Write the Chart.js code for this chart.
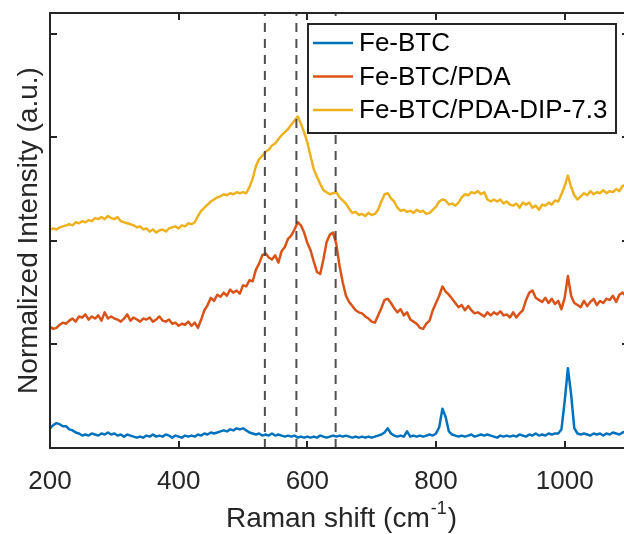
<!DOCTYPE html>
<html>
<head>
<meta charset="utf-8">
<title>Raman spectra</title>
<script src="https://cdn.jsdelivr.net/npm/chart.js@4/dist/chart.umd.min.js"></script>
<style>
  html, body { margin:0; padding:0; background:#fff; overflow:hidden; }
  #wrap { width:624px; height:534px; overflow:hidden; }
  canvas { display:block; }
</style>
</head>
<body>
<div id="wrap"><canvas id="chart-raman" width="632" height="534"></canvas></div>
<script>
/* ================================================================
   Raman spectra — Fe-BTC, Fe-BTC/PDA, Fe-BTC/PDA-DIP-7.3
================================================================ */

// Raman shift (cm-1), 5 cm-1 steps
const shifts = [
  200,205,210,215,220,225,230,235,240,245, 250,255,260,265,270,275,280,285,290,295,
  300,305,310,315,320,325,330,335,340,345, 350,355,360,365,370,375,380,385,390,395,
  400,405,410,415,420,425,430,435,440,445, 450,455,460,465,470,475,480,485,490,495,
  500,505,510,515,520,525,530,535,540,545, 550,555,560,565,570,575,580,585,590,595,
  600,605,610,615,620,625,630,635,640,645, 650,655,660,665,670,675,680,685,690,695,
  700,705,710,715,720,725,730,735,740,745, 750,755,760,765,770,775,780,785,790,795,
  800,805,810,815,820,825,830,835,840,845, 850,855,860,865,870,875,880,885,890,895,
  900,905,910,915,920,925,930,935,940,945, 950,955,960,965,970,975,980,985,990,995,
  1000,1005,1010,1015,1020,1025,1030,1035,1040,1045, 1050,1055,1060,1065,1070,1075,1080,1085,1090,1095,
  1100
];

// normalized intensities, stacked with an offset per sample
const feBTC = [
  0.19,0.22,0.24,0.23,0.21,0.21,0.18,0.17,0.15,0.14, 0.12,0.13,0.12,0.14,0.13,0.12,0.14,0.13,0.15,0.13,
  0.14,0.12,0.13,0.11,0.13,0.12,0.11,0.10,0.11,0.10, 0.12,0.11,0.13,0.11,0.12,0.11,0.13,0.12,0.10,0.12,
  0.11,0.10,0.12,0.11,0.12,0.11,0.13,0.12,0.14,0.13, 0.15,0.14,0.15,0.16,0.17,0.16,0.18,0.17,0.19,0.18,
  0.19,0.17,0.15,0.14,0.13,0.14,0.12,0.13,0.12,0.14, 0.12,0.13,0.12,0.11,0.12,0.11,0.12,0.10,0.11,0.10,
  0.11,0.10,0.11,0.10,0.12,0.11,0.10,0.11,0.12,0.11, 0.12,0.11,0.12,0.11,0.10,0.11,0.10,0.11,0.10,0.11,
  0.10,0.11,0.12,0.13,0.15,0.19,0.14,0.12,0.11,0.12, 0.11,0.16,0.11,0.12,0.11,0.12,0.11,0.12,0.13,0.12,
  0.14,0.20,0.38,0.30,0.16,0.13,0.12,0.11,0.12,0.11, 0.12,0.13,0.11,0.12,0.13,0.12,0.13,0.12,0.11,0.10,
  0.12,0.11,0.12,0.11,0.12,0.11,0.13,0.12,0.11,0.13, 0.12,0.14,0.12,0.13,0.12,0.14,0.13,0.14,0.14,0.18,
  0.45,0.77,0.52,0.19,0.14,0.13,0.14,0.13,0.12,0.14, 0.13,0.14,0.12,0.14,0.13,0.15,0.14,0.13,0.15,0.16,
  0.15
];

const feBTCPDA = [
  1.17,1.15,1.16,1.19,1.21,1.20,1.23,1.25,1.22,1.27, 1.26,1.29,1.24,1.27,1.25,1.28,1.23,1.31,1.25,1.27,
  1.25,1.24,1.22,1.25,1.29,1.23,1.26,1.24,1.22,1.25, 1.24,1.26,1.22,1.24,1.27,1.23,1.22,1.24,1.20,1.21,
  1.18,1.20,1.19,1.22,1.18,1.21,1.16,1.24,1.33,1.38, 1.45,1.42,1.48,1.46,1.50,1.47,1.53,1.50,1.52,1.49,
  1.57,1.56,1.62,1.61,1.72,1.78,1.86,1.88,1.84,1.82, 1.86,1.79,1.90,1.94,2.02,2.05,2.11,2.18,2.15,2.08,
  1.98,1.91,1.80,1.70,1.68,1.82,1.99,2.06,2.08,1.97, 1.76,1.60,1.47,1.41,1.37,1.33,1.31,1.30,1.27,1.25,
  1.22,1.21,1.28,1.35,1.43,1.44,1.40,1.35,1.31,1.34, 1.28,1.31,1.24,1.22,1.20,1.16,1.15,1.20,1.23,1.33,
  1.40,1.47,1.56,1.51,1.48,1.44,1.40,1.36,1.38,1.33, 1.37,1.33,1.30,1.31,1.29,1.27,1.31,1.28,1.31,1.29,
  1.32,1.28,1.29,1.26,1.31,1.26,1.30,1.33,1.43,1.50, 1.52,1.45,1.43,1.41,1.45,1.40,1.44,1.39,1.42,1.34,
  1.45,1.66,1.47,1.40,1.38,1.36,1.42,1.37,1.41,1.44, 1.38,1.42,1.40,1.44,1.43,1.47,1.41,1.48,1.50,1.47,
  1.52
];

const feBTCPDADIP = [
  2.11,2.12,2.11,2.13,2.14,2.15,2.16,2.15,2.18,2.17, 2.19,2.18,2.20,2.19,2.22,2.21,2.23,2.21,2.24,2.22,
  2.21,2.23,2.19,2.18,2.17,2.16,2.15,2.13,2.14,2.11, 2.12,2.09,2.11,2.08,2.10,2.11,2.09,2.12,2.13,2.14,
  2.12,2.15,2.14,2.17,2.16,2.18,2.24,2.29,2.32,2.35, 2.38,2.40,2.42,2.43,2.45,2.44,2.46,2.45,2.47,2.46,
  2.47,2.46,2.52,2.60,2.72,2.79,2.82,2.86,2.88,2.92, 2.94,2.98,3.02,3.05,3.08,3.12,3.16,3.20,3.13,3.05,
  2.95,2.82,2.69,2.62,2.55,2.49,2.47,2.45,2.46,2.47, 2.42,2.39,2.36,2.31,2.27,2.28,2.25,2.26,2.24,2.27,
  2.25,2.26,2.30,2.38,2.45,2.46,2.41,2.38,2.32,2.29, 2.30,2.28,2.29,2.27,2.30,2.28,2.29,2.26,2.27,2.30,
  2.33,2.38,2.40,2.39,2.35,2.36,2.34,2.37,2.42,2.45, 2.44,2.47,2.46,2.48,2.45,2.47,2.40,2.38,2.40,2.38,
  2.40,2.36,2.38,2.35,2.34,2.36,2.32,2.37,2.35,2.37, 2.32,2.34,2.30,2.35,2.34,2.37,2.35,2.39,2.38,2.45,
  2.53,2.63,2.52,2.44,2.40,2.43,2.46,2.44,2.48,2.45, 2.47,2.46,2.49,2.46,2.48,2.47,2.50,2.48,2.53,2.54,
  2.56
];

const seriesNames  = ['Fe-BTC', 'Fe-BTC/PDA', 'Fe-BTC/PDA-DIP-7.3'];
const seriesColors = ['#0072BD', '#D95319', '#EDB120'];
const markerShifts = [534, 583, 644];   // dashed reference lines
const xTicks = [200, 400, 600, 800, 1000];
const yTicks = [1, 2, 3, 4];
const xRange = [200, 1100];
const yRange = [0, 4.2];

const INK = '#262626';
const FONT = '"Liberation Sans", Arial, Helvetica, sans-serif';

const toPoints = (ys) => shifts.map((x, i) => ({ x, y: ys[i] }));

const spectraSets = [feBTC, feBTCPDA, feBTCPDADIP].map((ys, i) => ({
  label: seriesNames[i],
  data: toPoints(ys),
  borderColor: seriesColors[i],
  borderWidth: 2.5,
  borderJoinStyle: 'round',
  pointRadius: 0,
  showLine: true,
  tension: 0,
  order: 3 - i + 1
}));

const markerSets = markerShifts.map(s => ({
  label: 'ref ' + s,
  data: [{ x: s, y: yRange[0] }, { x: s, y: yRange[1] }],
  borderColor: 'rgba(70,70,70,0.95)',
  borderWidth: 2,
  borderDash: [9, 7],
  pointRadius: 0,
  showLine: true,
  order: 0
}));

// ---- frame: box, inward ticks, labels, titles, legend ----
const framePlugin = {
  id: 'frame',
  afterDraw(chart){
    const { ctx, chartArea: a, scales } = chart;
    const sx = scales.x, sy = scales.y;
    const tick = 7;
    ctx.save();
    ctx.strokeStyle = INK;
    ctx.lineWidth = 2;
    ctx.strokeRect(a.left, a.top, a.right - a.left, a.bottom - a.top);

    ctx.beginPath();
    xTicks.forEach(v => {
      const px = Math.round(sx.getPixelForValue(v));
      ctx.moveTo(px, a.bottom); ctx.lineTo(px, a.bottom - tick);
      ctx.moveTo(px, a.top);    ctx.lineTo(px, a.top + tick);
    });
    yTicks.forEach(v => {
      const py = Math.round(sy.getPixelForValue(v));
      ctx.moveTo(a.left, py);  ctx.lineTo(a.left + tick, py);
      ctx.moveTo(a.right, py); ctx.lineTo(a.right - tick, py);
    });
    ctx.stroke();

    // tick labels
    ctx.fillStyle = INK;
    ctx.font = '26px ' + FONT;
    ctx.textAlign = 'center';
    ctx.textBaseline = 'alphabetic';
    xTicks.forEach(v => ctx.fillText(String(v), sx.getPixelForValue(v), a.bottom + 41));

    // x title with superscript
    const main = 'Raman shift (cm', sup = '-1', tail = ')';
    ctx.font = '28px ' + FONT;
    const wMain = ctx.measureText(main).width, wTail = ctx.measureText(tail).width;
    ctx.font = '18px ' + FONT;
    const wSup = ctx.measureText(sup).width;
    let x0 = (a.left + a.right) / 2 - (wMain + wSup + wTail) / 2 + 1;
    const base = a.bottom + 79;
    ctx.textAlign = 'left';
    ctx.font = '28px ' + FONT;
    ctx.fillText(main, x0, base);
    ctx.font = '18px ' + FONT;
    ctx.fillText(sup, x0 + wMain + 1, base - 13);
    ctx.font = '28px ' + FONT;
    ctx.fillText(tail, x0 + wMain + wSup + 2, base);

    // y title
    ctx.save();
    ctx.translate(37, (a.top + a.bottom) / 2);
    ctx.rotate(-Math.PI / 2);
    ctx.textAlign = 'center';
    ctx.fillText('Normalized Intensity (a.u.)', 0, 0);
    ctx.restore();

    // legend box
    const lx = 308, ly = 24, lw = 308, lh = 109;
    ctx.fillStyle = '#fff';
    ctx.fillRect(lx, ly, lw, lh);
    ctx.strokeStyle = INK;
    ctx.lineWidth = 2;
    ctx.strokeRect(lx, ly, lw, lh);
    ctx.font = '26px ' + FONT;
    ctx.textAlign = 'left';
    ctx.textBaseline = 'middle';
    ctx.lineWidth = 2.5;
    seriesNames.forEach((name, i) => {
      const yy = ly + 19 + i * 33.5;
      ctx.strokeStyle = seriesColors[i];
      ctx.beginPath(); ctx.moveTo(lx + 5, yy); ctx.lineTo(lx + 45, yy); ctx.stroke();
      ctx.fillStyle = '#000';
      ctx.fillText(name, lx + 51, yy + 1);
    });
    ctx.restore();
  }
};

new Chart(document.getElementById('chart-raman'), {
  type: 'scatter',
  data: { datasets: [...spectraSets, ...markerSets] },
  options: {
    responsive: false,
    devicePixelRatio: 1,
    animation: false,
    layout: { padding: { left: 50, top: 13, right: 3, bottom: 86 } },
    plugins: { legend: { display: false }, tooltip: { enabled: false } },
    scales: {
      x: { type: 'linear', min: xRange[0], max: xRange[1], display: false },
      y: { type: 'linear', min: yRange[0], max: yRange[1], display: false }
    }
  },
  plugins: [framePlugin]
});
</script>
</body>
</html>
